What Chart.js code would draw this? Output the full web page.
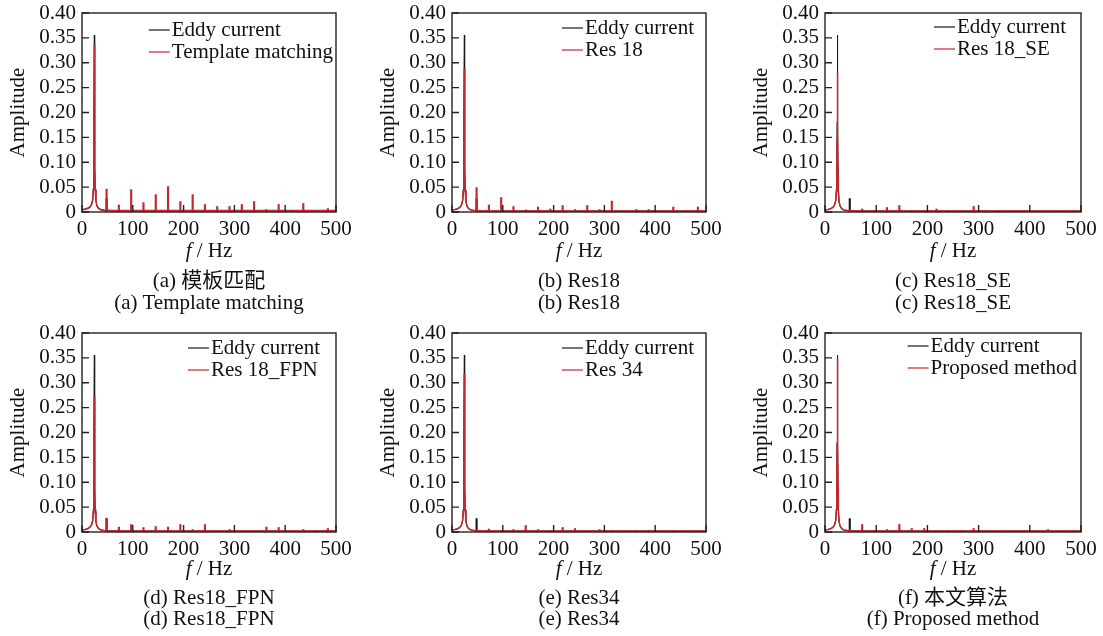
<!DOCTYPE html>
<html>
<head>
<meta charset="utf-8">
<script src="https://cdn.jsdelivr.net/npm/chart.js@4.4.1/dist/chart.umd.min.js"></script>
<style>
  body { margin: 0; background: #fff; }
  #page { position: relative; width: 1103px; height: 636px; overflow: hidden; background: #fff; }
  canvas { position: absolute; }
  .txt {
    position: absolute;
    font-family: "Liberation Serif", "Times New Roman", "Noto Sans CJK SC", serif;
    font-size: 21px;
    line-height: 22px;
    color: #111;
    white-space: nowrap;
    transform: translateX(-50%);
  }
</style>
</head>
<body>
<div id="page"></div>
<script>
// frequency points of the continuous part (fundamental resonance + floor), Hz
const peakFreq = [0, 6, 12, 16, 19, 21, 22.3, 23.0, 23.6, 24.2, 24.8, 25.4, 26.1, 27.4, 29.4, 32.5, 37, 44, 60, 120, 250, 500]

const eddyPeak = [0.004, 0.005, 0.007, 0.010, 0.015, 0.024, 0.045, 0.090, 0.180, 0.356, 0.180, 0.090, 0.045, 0.022, 0.012, 0.007, 0.004, 0.003, 0.002, 0.002, 0.002, 0.002]
const templatePeak = [0.005, 0.006, 0.008, 0.011, 0.016, 0.025, 0.046, 0.088, 0.172, 0.336, 0.172, 0.088, 0.045, 0.023, 0.013, 0.008, 0.005, 0.004, 0.003, 0.003, 0.003, 0.003]
const res18Peak = [0.004, 0.005, 0.007, 0.010, 0.015, 0.023, 0.042, 0.078, 0.150, 0.288, 0.150, 0.078, 0.042, 0.021, 0.012, 0.007, 0.004, 0.003, 0.002, 0.002, 0.002, 0.002]
const res18sePeak = [0.004, 0.005, 0.007, 0.010, 0.015, 0.023, 0.041, 0.076, 0.146, 0.280, 0.146, 0.076, 0.041, 0.021, 0.012, 0.007, 0.004, 0.003, 0.002, 0.002, 0.002, 0.002]
const res18fpnPeak = [0.004, 0.005, 0.007, 0.010, 0.015, 0.022, 0.040, 0.074, 0.142, 0.273, 0.142, 0.074, 0.040, 0.020, 0.012, 0.007, 0.004, 0.003, 0.002, 0.002, 0.002, 0.002]
const res34Peak = [0.004, 0.005, 0.007, 0.010, 0.015, 0.024, 0.043, 0.083, 0.162, 0.318, 0.162, 0.083, 0.043, 0.022, 0.012, 0.007, 0.004, 0.003, 0.002, 0.002, 0.002, 0.002]
const proposedPeak = [0.004, 0.005, 0.007, 0.010, 0.015, 0.024, 0.045, 0.088, 0.176, 0.348, 0.176, 0.088, 0.045, 0.022, 0.012, 0.007, 0.004, 0.003, 0.002, 0.002, 0.002, 0.002]

// harmonic lines, Hz
const harmFreq = [48.4, 72.6, 96.8, 121.0, 145.2, 169.4, 193.6, 217.8, 242.0, 266.2, 290.4, 314.6, 338.8, 363.0, 387.2, 411.4, 435.6, 459.8, 484.0]

const eddyHarm = [0.027, 0.004, 0.003, 0.003, 0.004, 0.002, 0.002, 0.002, 0.002, 0.002, 0.002, 0.002, 0.002, 0.002, 0.002, 0.002, 0.002, 0.002, 0.002]
const templateHarm = [0.046, 0.014, 0.045, 0.019, 0.035, 0.051, 0.021, 0.035, 0.015, 0.011, 0.011, 0.015, 0.021, 0.005, 0.015, 0.003, 0.017, 0.003, 0.007]
const res18Harm = [0.049, 0.014, 0.029, 0.011, 0.002, 0.010, 0.006, 0.013, 0.005, 0.013, 0.005, 0.022, 0.002, 0.005, 0.005, 0.002, 0.010, 0.003, 0.010]
const res18seHarm = [0.004, 0.006, 0.003, 0.009, 0.013, 0.003, 0.003, 0.006, 0.003, 0.002, 0.011, 0.003, 0.003, 0.003, 0.003, 0.002, 0.002, 0.002, 0.002]
const res18fpnHarm = [0.028, 0.010, 0.015, 0.009, 0.011, 0.010, 0.015, 0.005, 0.015, 0.002, 0.005, 0.003, 0.002, 0.010, 0.009, 0.003, 0.005, 0.003, 0.007]
const res34Harm = [0.004, 0.006, 0.003, 0.005, 0.013, 0.005, 0.003, 0.009, 0.007, 0.002, 0.005, 0.002, 0.003, 0.003, 0.003, 0.002, 0.003, 0.002, 0.002]
const proposedHarm = [0.005, 0.015, 0.003, 0.005, 0.015, 0.007, 0.007, 0.003, 0.003, 0.002, 0.007, 0.002, 0.002, 0.002, 0.002, 0.002, 0.005, 0.002, 0.002]

const xTickValues = [0, 100, 200, 300, 400, 500]
const yTickValues = [0, 0.05, 0.10, 0.15, 0.20, 0.25, 0.30, 0.35, 0.40]

const refName = "Eddy current"
const methodNames = ["Template matching", "Res 18", "Res 18_SE", "Res 18_FPN", "Res 34", "Proposed method"]
const methodPeaks = [templatePeak, res18Peak, res18sePeak, res18fpnPeak, res34Peak, proposedPeak]
const methodHarms = [templateHarm, res18Harm, res18seHarm, res18fpnHarm, res34Harm, proposedHarm]
const captionCn = ["(a) 模板匹配", "(b) Res18", "(c) Res18_SE", "(d) Res18_FPN", "(e) Res34", "(f) 本文算法"]
const captionEn = ["(a) Template matching", "(b) Res18", "(c) Res18_SE", "(d) Res18_FPN", "(e) Res34", "(f) Proposed method"]

// page layout of the six panels
const panelLayout = [
  { left: 0, top: 0, plotW: 254, legendGap: 3, legendDy: 17 },
  { left: 370, top: 0, plotW: 254, legendGap: 12, legendDy: 15 },
  { left: 743, top: 0, plotW: 256, legendGap: 15, legendDy: 14 },
  { left: 0, top: 320, plotW: 254, legendGap: 16, legendDy: 15 },
  { left: 370, top: 320, plotW: 254, legendGap: 12, legendDy: 15 },
  { left: 743, top: 320, plotW: 256, legendGap: 4, legendDy: 13 }
]
const rowText = [[250, 280, 302], [568, 597, 618]]

const SERIF = "'Liberation Serif', 'Times New Roman', serif"
const RED = "#c3272d"
const BLACK = "#1a1a1a"
const Y_AXIS_W = 82
const PAD_TOP = 13
const PAD_RIGHT = 20
const X_AXIS_H = 40
const CANVAS_H = 252

Chart.defaults.font.family = SERIF
Chart.defaults.font.size = 21
Chart.defaults.color = "#111"

const frameTicks = {
  id: "frameTicks",
  afterDatasetsDraw(chart) {
    const { ctx, chartArea: a, scales } = chart
    ctx.save()
    ctx.strokeStyle = "#222"
    ctx.lineWidth = 1.4
    ctx.beginPath()
    scales.x.ticks.forEach(t => {
      const px = scales.x.getPixelForValue(t.value)
      ctx.moveTo(px, a.bottom)
      ctx.lineTo(px, a.bottom - 7)
    })
    scales.y.ticks.forEach(t => {
      const py = scales.y.getPixelForValue(t.value)
      ctx.moveTo(a.left, py)
      ctx.lineTo(a.left + 7, py)
    })
    ctx.stroke()
    ctx.strokeRect(a.left, a.top, a.right - a.left, a.bottom - a.top)
    ctx.restore()
  }
}

const insideLegend = {
  id: "insideLegend",
  afterDraw(chart, args, opts) {
    const { ctx, chartArea: a } = chart
    const items = chart.data.datasets.filter(d => d.type === "line")
    ctx.save()
    ctx.font = "21px " + SERIF
    const textW = Math.max(...items.map(d => ctx.measureText(d.label).width))
    const x0 = a.right - opts.gap - textW - 23
    items.forEach((d, i) => {
      const y = a.top + opts.dy + i * 22
      ctx.strokeStyle = d.borderColor
      ctx.lineWidth = 1.2
      ctx.beginPath()
      ctx.moveTo(x0, y)
      ctx.lineTo(x0 + 21, y)
      ctx.stroke()
      ctx.fillStyle = "#111"
      ctx.textBaseline = "middle"
      ctx.textAlign = "left"
      ctx.fillText(d.label, x0 + 23, y)
    })
    ctx.restore()
  }
}

const page = document.getElementById("page")

function points(xs, ys) {
  return xs.map((x, i) => ({ x: x, y: ys[i] }))
}

function addText(html, cx, cy) {
  const div = document.createElement("div")
  div.className = "txt"
  div.innerHTML = html
  div.style.left = cx + "px"
  div.style.top = (cy - 11) + "px"
  page.appendChild(div)
}

panelLayout.forEach((p, k) => {

  const canvas = document.createElement("canvas")
  const w = Y_AXIS_W + p.plotW + PAD_RIGHT
  canvas.width = w
  canvas.height = CANVAS_H
  canvas.style.left = p.left + "px"
  canvas.style.top = p.top + "px"
  page.appendChild(canvas)

  new Chart(canvas.getContext("2d"), {
    type: "line",
    data: {
      datasets: [
        {
          type: "line",
          label: refName,
          data: points(peakFreq, eddyPeak),
          borderColor: BLACK,
          borderWidth: 1.1,
          pointRadius: 0,
          tension: 0,
          order: 2
        },
        {
          type: "line",
          label: methodNames[k],
          data: points(peakFreq, methodPeaks[k]),
          borderColor: RED,
          borderWidth: 1.5,
          pointRadius: 0,
          tension: 0,
          order: 0
        },
        {
          type: "bar",
          label: "",
          data: points(harmFreq, eddyHarm),
          backgroundColor: BLACK,
          barThickness: 1.5,
          grouped: false,
          order: 3
        },
        {
          type: "bar",
          label: "",
          data: points(harmFreq, methodHarms[k]),
          backgroundColor: RED,
          barThickness: 1.5,
          grouped: false,
          order: 1
        }
      ]
    },
    options: {
      responsive: false,
      animation: false,
      layout: { padding: { top: PAD_TOP, right: PAD_RIGHT, left: 0, bottom: 0 } },
      plugins: {
        legend: { display: false },
        tooltip: { enabled: false },
        insideLegend: { gap: p.legendGap, dy: p.legendDy }
      },
      scales: {
        x: {
          type: "linear",
          min: 0,
          max: 500,
          offset: false,
          grid: { display: false, drawTicks: false },
          border: { display: false },
          afterBuildTicks: s => { s.ticks = xTickValues.map(v => ({ value: v })) },
          afterFit: s => {
            s.height = X_AXIS_H
            s.paddingLeft = 0
            s.paddingRight = 0
          },
          ticks: { padding: 5, maxRotation: 0, autoSkip: false, color: "#111" }
        },
        y: {
          type: "linear",
          min: 0,
          max: 0.4,
          grid: { display: false, drawTicks: false },
          border: { display: false },
          afterBuildTicks: s => { s.ticks = yTickValues.map(v => ({ value: v })) },
          afterFit: s => {
            s.width = Y_AXIS_W
            s.paddingTop = 0
            s.paddingBottom = 0
          },
          ticks: {
            padding: 6,
            autoSkip: false,
            color: "#111",
            callback: v => v === 0 ? "0" : v.toFixed(2)
          },
          title: { display: true, text: "Amplitude", padding: { top: 6, bottom: 0 }, color: "#111" }
        }
      }
    },
    plugins: [frameTicks, insideLegend]
  })

  const cx = p.left + Y_AXIS_W + p.plotW / 2
  const rows = rowText[p.top === 0 ? 0 : 1]
  addText("<i>f</i> / Hz", cx, rows[0])
  addText(captionCn[k], cx, rows[1])
  addText(captionEn[k], cx, rows[2])
})
</script>
</body>
</html>
